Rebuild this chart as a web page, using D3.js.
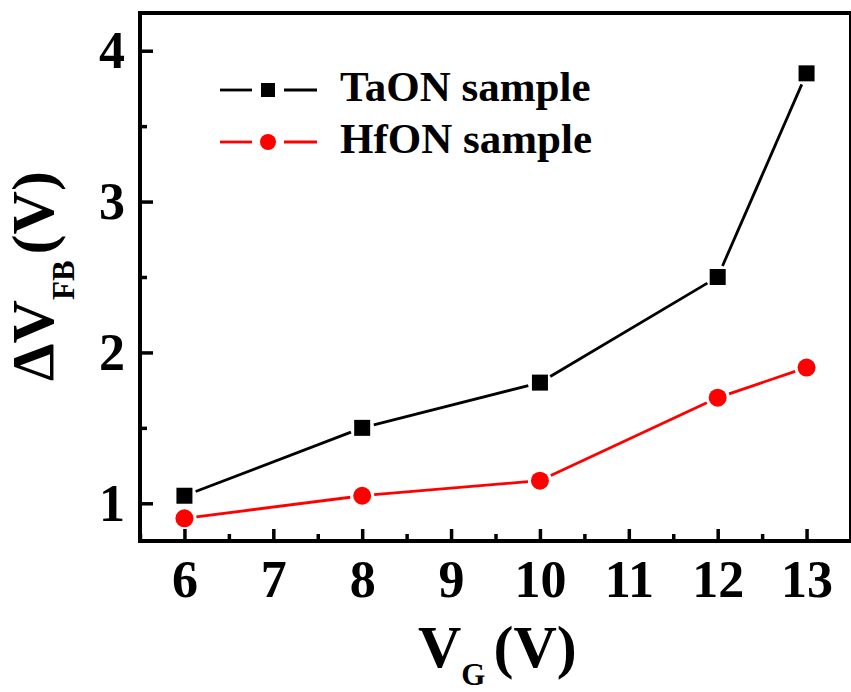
<!DOCTYPE html>
<html>
<head>
<meta charset="utf-8">
<script src="https://cdn.jsdelivr.net/npm/d3@7"></script>
<style>
  body { margin: 0; background: #fff; }
  svg text { font-family: "Liberation Serif", "Times New Roman", serif; font-weight: bold; }
</style>
</head>
<body>
<div id="chart"></div>
<script>
// data
var vg = [6, 8, 10, 12, 13];
var taon = [1.05, 1.5, 1.8, 2.5, 3.85];
var hfon = [0.9, 1.05, 1.15, 1.7, 1.9];
var xTicks = [6, 7, 8, 9, 10, 11, 12, 13];
var yTicks = [1, 2, 3, 4];
var seriesNames = ["TaON sample", "HfON sample"];

var width = 851, height = 692;
var m = {left: 140, right: 851, top: 13, bottom: 541};

var svg = d3.select('#chart').append('svg')
  .attr('width', width)
  .attr('height', height);

var x = d3.scaleLinear().domain([5.5, 13.5]).range([m.left, m.right]);
var y = d3.scaleLinear().domain([0.75, 4.25]).range([m.bottom, m.top]);

// frame
svg.append('rect')
  .attr('x', m.left).attr('y', m.top)
  .attr('width', m.right - m.left).attr('height', m.bottom - m.top)
  .attr('fill', 'none').attr('stroke', '#000').attr('stroke-width', 4);

// x axis: major + minor ticks pointing inward
var xMinor = d3.range(5.5, 13.6, 0.5).filter(function (d) { return d % 1 !== 0; });
svg.append('g')
  .attr('transform', 'translate(0,' + m.bottom + ')')
  .call(d3.axisBottom(x).tickValues(xMinor).tickSize(-7).tickFormat(''))
  .call(function (g) { g.select('.domain').remove(); g.selectAll('line').attr('stroke-width', 3.5); });
var xAxis = svg.append('g')
  .attr('transform', 'translate(0,' + m.bottom + ')')
  .call(d3.axisBottom(x).tickValues(xTicks).tickSize(-12).tickPadding(0).tickFormat(d3.format('d')));
xAxis.select('.domain').remove();
xAxis.selectAll('line').attr('stroke-width', 3.5);
xAxis.selectAll('text')
  .attr('y', 56).attr('dy', null)
  .attr('font-size', 52).attr('fill', '#000');

// y axis
var yMinor = [1.5, 2.5, 3.5];
svg.append('g')
  .attr('transform', 'translate(' + m.left + ',0)')
  .call(d3.axisLeft(y).tickValues(yMinor).tickSize(-7).tickFormat(''))
  .call(function (g) { g.select('.domain').remove(); g.selectAll('line').attr('stroke-width', 3.5); });
var yAxis = svg.append('g')
  .attr('transform', 'translate(' + m.left + ',0)')
  .call(d3.axisLeft(y).tickValues(yTicks).tickSize(-13).tickPadding(0).tickFormat(d3.format('d')));
yAxis.select('.domain').remove();
yAxis.selectAll('line').attr('stroke-width', 3.5);
yAxis.selectAll('text')
  .attr('x', -15).attr('dy', 17)
  .attr('font-size', 52).attr('fill', '#000');

// axis titles
var xt = svg.append('text').attr('x', 418).attr('y', 667).attr('font-size', 60);
xt.append('tspan').text('V');
xt.append('tspan').attr('font-size', 31).attr('dy', 18).text('G');
xt.append('tspan').attr('dy', -18).attr('dx', 8).text('(V)');

var yt = svg.append('text')
  .attr('transform', 'translate(53,381) rotate(-90)')
  .attr('font-size', 60);
yt.append('tspan').text('\u0394V');
yt.append('tspan').attr('font-size', 31).attr('dy', 21).text('FB');
yt.append('tspan').attr('dy', -21).attr('dx', 6).text('(V)');

// connecting lines with small gaps at the markers
function drawSeries(vals, color, gap) {
  var pts = vg.map(function (d, i) { return [x(d), y(vals[i])]; });
  var segs = d3.pairs(pts);
  svg.append('g').selectAll('line').data(segs).enter().append('line')
    .each(function (s) {
      var dx = s[1][0] - s[0][0], dy = s[1][1] - s[0][1];
      var len = Math.sqrt(dx * dx + dy * dy);
      var ux = dx / len, uy = dy / len;
      d3.select(this)
        .attr('x1', s[0][0] + ux * gap).attr('y1', s[0][1] + uy * gap)
        .attr('x2', s[1][0] - ux * gap).attr('y2', s[1][1] - uy * gap);
    })
    .attr('stroke', color).attr('stroke-width', 2.8);
  return pts;
}

var p1 = drawSeries(taon, '#000', 12);
svg.append('g').selectAll('rect').data(p1).enter().append('rect')
  .attr('x', function (d) { return d[0] - 8; })
  .attr('y', function (d) { return d[1] - 8; })
  .attr('width', 16).attr('height', 16)
  .attr('fill', '#000');

var p2 = drawSeries(hfon, '#ff0000', 12);
svg.append('g').selectAll('circle').data(p2).enter().append('circle')
  .attr('cx', function (d) { return d[0]; })
  .attr('cy', function (d) { return d[1]; })
  .attr('r', 9)
  .attr('fill', '#ff0000');

// legend
var legend = svg.append('g');
var legY = [90, 142];
var legColors = ['#000', '#ff0000'];
legY.forEach(function (ly, i) {
  legend.append('line').attr('x1', 220).attr('x2', 252).attr('y1', ly).attr('y2', ly)
    .attr('stroke', legColors[i]).attr('stroke-width', 2.8);
  legend.append('line').attr('x1', 284).attr('x2', 317).attr('y1', ly).attr('y2', ly)
    .attr('stroke', legColors[i]).attr('stroke-width', 2.8);
  if (i === 0) {
    legend.append('rect').attr('x', 261).attr('y', ly - 7).attr('width', 14).attr('height', 14).attr('fill', '#000');
  } else {
    legend.append('circle').attr('cx', 268).attr('cy', ly).attr('r', 8).attr('fill', '#ff0000');
  }
  legend.append('text').attr('x', 340).attr('y', ly + 11).attr('font-size', 43)
    .text(seriesNames[i]);
});
</script>
</body>
</html>
